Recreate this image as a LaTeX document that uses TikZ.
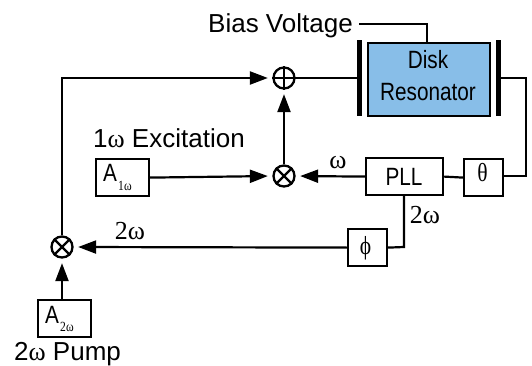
\documentclass[tikz,border=0pt]{standalone}
\usepackage{fontspec}
\setmainfont{Liberation Sans}
\newfontfamily\grk{Liberation Serif}
\usetikzlibrary{arrows.meta}
\newcommand{\narrow}[1]{\scalebox{.83}[1]{#1}}
\tikzset{
  wire/.style={line width=2.2pt},
  arr/.style={wire,-{Triangle[length=18pt,width=13pt]},shorten >=4.5pt},
  blockbox/.style={draw,line width=2.2pt,fill=white,inner sep=0pt,anchor=north west},
  junction/.style={draw,circle,line width=2.3pt,minimum size=21pt,inner sep=0pt,fill=white},
  plate/.style={fill=black,draw=none,inner sep=0pt,anchor=north west,minimum width=5pt,minimum height=76pt},
  lab/.style={inner sep=0pt,font=\fontsize{26}{26}\selectfont},
  glab/.style={inner sep=0pt,font=\grk\fontsize{26}{26}\selectfont},
  boxlab/.style={inner sep=0pt,font=\fontsize{25}{25}\selectfont},
  cross/.style={line width=2.2pt}
}
\begin{document}
\begin{tikzpicture}[x=1pt,y=-1pt]
\useasboundingbox (0,0) rectangle (532,366);
% blocks
\node[blockbox,fill={rgb,255:red,136;green,190;blue,232},minimum width=122pt,minimum height=73pt] (disk) at (367,42) {};
\node[boxlab,anchor=base] (disktext) at (428,69) {\narrow{Disk}};
\node[boxlab,anchor=base] (restext) at (428,101) {\narrow{Resonator}};
\node[plate] (pl) at (356.5,40) {};
\node[plate] (pr) at (495.5,40) {};
\node[blockbox,minimum width=77pt,minimum height=37pt] (pll) at (365,157) {};
\node[boxlab,anchor=base] (plltext) at (404,185) {\narrow{PLL}};
\node[blockbox,minimum width=39pt,minimum height=37pt] (theta) at (463,158) {};
\node[glab,anchor=base] (thetatext) at (482.5,182) {\narrow{θ}};
\node[blockbox,minimum width=39pt,minimum height=37pt] (phi) at (347,228) {};
\node[glab,anchor=base] (phitext) at (365.5,254) {\narrow{ϕ}};
\node[blockbox,minimum width=53pt,minimum height=37pt] (aone) at (95,158) {};
\node[boxlab,anchor=base west] (aonetext) at (103,182) {\narrow{A}};
\node[inner sep=0pt,anchor=base west,font=\grk\fontsize{14}{14}\selectfont] (aonesub) at (118,190) {\narrow{1ω}};
\node[blockbox,minimum width=53pt,minimum height=37pt] (atwo) at (37,299) {};
\node[boxlab,anchor=base west] (atwotext) at (45,323) {\narrow{A}};
\node[inner sep=0pt,anchor=base west,font=\grk\fontsize{14}{14}\selectfont] (atwosub) at (60,331) {\narrow{2ω}};
% junctions
\node[junction] (plus) at (284,78) {};
\draw[cross] (plus.north) -- (plus.south) (plus.west) -- (plus.east);
\node[junction] (tm) at (284,176) {};
\draw[cross] (tm.north west) -- (tm.south east) (tm.north east) -- (tm.south west);
\node[junction] (tl) at (62,247) {};
\draw[cross] (tl.north west) -- (tl.south east) (tl.north east) -- (tl.south west);
% labels
\node[lab,anchor=base west] (bias) at (208,33) {Bias Voltage};
\node[lab,anchor=base west] (exc) at (93,148) {1{\grk ω} Excitation};
\node[lab,anchor=base west] (pump) at (14,360) {2{\grk ω} Pump};
\node[glab] (w1) at (338,163) {ω};
\node[glab] (w2) at (425,215) {2ω};
\node[glab] (w3) at (130,231) {2ω};
% wires
\coordinate (corner1) at (62,78);
\draw[arr] (tl.north) -- (corner1) -- (plus.west);
\draw[wire] (plus.east) -- (pl.west |- plus.east);
\draw[arr] (tm.north) -- (plus.south);
\draw[arr] (aone.east) -- (tm.west);
\draw[arr] (pll.west) -- (tm.east);
\draw[wire] (pll.east) -- (theta.west);
\coordinate (corner2) at (526,78);
\coordinate (corner3) at (526,176);
\draw[wire] (pr.east |- corner2) -- (corner2) -- (corner3) -- (theta.east |- corner3);
\coordinate (biasend) at (359,24);
\coordinate (biascorner) at (427,24);
\draw[wire] (biasend) -- (biascorner) -- (disk.north -| biascorner);
\coordinate (pllout) at (404,194);
\coordinate (pllcorner) at (404,247);
\draw[wire] (pllout) -- (pllcorner) -- (phi.east);
\draw[arr] (phi.west) -- (tl.east);
\draw[arr] (atwo.north -| tl) -- (tl.south);
\end{tikzpicture}
\end{document}
